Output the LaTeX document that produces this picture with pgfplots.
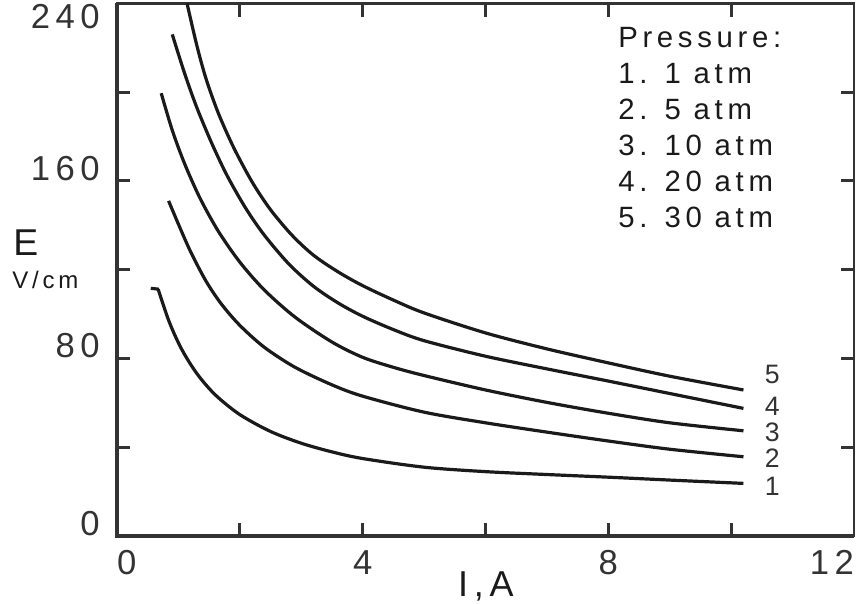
\documentclass[border=0pt]{standalone}
\usepackage{fontspec}
\setmainfont{Liberation Sans}[LetterSpace=16]
\usepackage{pgfplots}
\pgfplotsset{compat=1.18}
\definecolor{ink}{HTML}{1A1A1A}
\definecolor{axgray}{HTML}{333333}
\tikzset{curvelabel/.style={font=\fontsize{20}{20}\selectfont, text=axgray, inner sep=0pt}}
\pgfplotsset{crv/.style={ink, line width=2.4pt, smooth, no markers}}
\begin{document}
\begin{tikzpicture}
\path[use as bounding box] (0,0) rectangle (642pt,452.25pt);
\begin{axis}[
  at={(87.75pt,50.25pt)}, anchor=south west,
  scale only axis, width=552.75pt, height=399.5pt,
  xmin=0, xmax=12, ymin=0, ymax=240,
  xtick={0,2,...,12}, xticklabels={\makebox[0pt][l]{0},,4,,8,,\makebox[0pt][r]{12}},
  ytick={0,40,...,200}, yticklabels={0,,80,,160,},
  extra y ticks={240}, extra y tick labels={\raisebox{-19.5pt}[0pt][0pt]{240}},
  tick align=inside, major tick length=10pt,
  tick style={line width=2.2pt, color=axgray},
  axis line style={line width=1.8pt, color=axgray},
  ticklabel style={font=\fontsize{26}{26}\selectfont, text=axgray, inner sep=0pt},
  xticklabel style={anchor=north, yshift=-10.5pt},
  yticklabel style={anchor=south east, xshift=-12.75pt},
  /pgf/number format/assume math mode=true,
  clip=false,
]
\draw[line width=3pt, axgray] (rel axis cs:0,1) -- (rel axis cs:0,0) -- (rel axis cs:1,0);
% curve 1: 1 atm (short flat hook at its start)
\addplot[crv, sharp plot] coordinates {(0.55,111.6) (0.68,111.2)};
\addplot[crv] coordinates {(0.67,111.2) (0.85,96.5) (1.05,84.3) (1.3,73.2) (1.6,63.6) (2.0,54.7) (2.5,47.1) (3.0,41.8) (3.5,37.9) (4,34.9) (5,31) (6,29) (7,27.7) (8,26.5) (9,25.2) (10.2,23.7)};
% curve 2: 5 atm
\addplot[crv] coordinates {(0.84,151) (1.0,140.5) (1.2,128) (1.45,114.8) (1.7,104.5) (2.0,94.9) (2.4,85) (2.9,76) (3.5,68.1) (4,63) (5,55.8) (6,51) (7,46.8) (8,42.8) (9,39.1) (10.2,35.7)};
% curve 3: 10 atm
\addplot[crv] coordinates {(0.72,199.5) (0.9,182.8) (1.1,167.8) (1.35,152.3) (1.65,137.3) (2.0,123.4) (2.4,110.8) (2.9,98.6) (3.5,87.4) (4,80.5) (4.5,76) (5,72.3) (6,65.8) (7,60.2) (8,55.3) (9,51) (10.2,47.4)};
% curve 4: 20 atm
\addplot[crv] coordinates {(0.9,226) (1.1,208.5) (1.3,193) (1.55,176.5) (1.8,162) (2.1,147.5) (2.4,135.5) (2.8,122.5) (3.2,112.5) (3.6,105) (4,99) (4.5,93) (5,88) (6,81) (7,75.3) (8,69.8) (9,64.2) (10.2,57.5)};
% curve 5: 30 atm
\addplot[crv] coordinates {(1.14,240) (1.3,221) (1.45,206) (1.65,190.5) (1.9,175) (2.2,159.5) (2.5,147) (2.85,135.5) (3.2,126.5) (3.6,119) (4,112.8) (4.5,106.3) (5,100.5) (6,91.5) (7,84.3) (8,78) (9,72) (10.2,65.8)};
\node[curvelabel] at (axis cs:10.67,22.5) {1};
\node[curvelabel] at (axis cs:10.67,35.1) {2};
\node[curvelabel] at (axis cs:10.67,46.8) {3};
\node[curvelabel] at (axis cs:10.67,58.6) {4};
\node[curvelabel] at (axis cs:10.67,73) {5};
\end{axis}
\node[anchor=north west, inner sep=0pt, align=left, text=ink,
      font=\fontsize{22}{27}\selectfont] at (463.5pt,432pt)
  {Pressure:\\1. 1 atm\\2. 5 atm\\3. 10 atm\\4. 20 atm\\5. 30 atm};
\node[anchor=north west, inner sep=0pt, text=ink, font=\fontsize{28}{28}\selectfont] at (9.75pt,279.75pt) {E};
\node[anchor=south west, inner sep=0pt, text=ink, font=\fontsize{18}{18}\selectfont] at (9pt,235.5pt) {V/cm};
\node[anchor=north, inner sep=0pt, text=ink, font=\fontsize{27}{27}\selectfont] at (364.5pt,24pt) {I,A};
\end{tikzpicture}
\end{document}
